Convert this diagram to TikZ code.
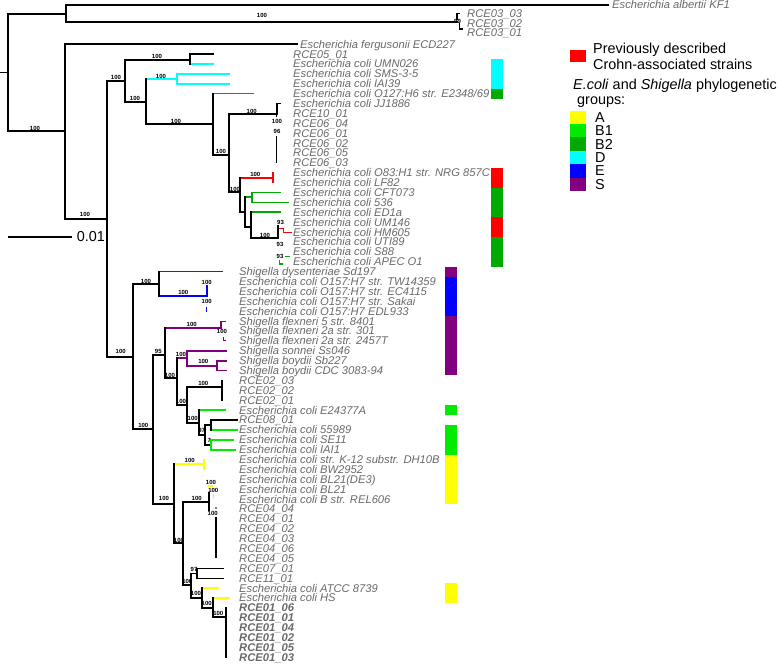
\documentclass[tikz,border=0pt]{standalone}
\usepackage{fontspec}
\setmainfont{Liberation Sans}
\usepackage{tikz}
\usetikzlibrary{positioning}
\definecolor{tipgray}{RGB}{105,105,105}
\definecolor{grpA}{RGB}{255,255,0}
\definecolor{grpBa}{RGB}{0,235,0}
\definecolor{grpBb}{RGB}{0,170,0}
\definecolor{grpD}{RGB}{0,255,255}
\definecolor{grpE}{RGB}{0,0,255}
\definecolor{grpS}{RGB}{128,0,128}
\definecolor{crohn}{RGB}{255,0,0}
\tikzstyle{branch}=[line width=1.7pt,line cap=rect]
\tikzstyle{twig}=[line width=1.1pt]
\tikzstyle{tip}=[anchor=west,inner sep=0pt,text height=8pt,text depth=0pt,text=tipgray,font=\fontsize{11.2}{11.2}\selectfont\itshape]
\tikzstyle{boot}=[inner sep=0pt,font=\fontsize{6}{6}\selectfont\bfseries]
\tikzstyle{legend}=[anchor=west,inner sep=0pt,text height=10.3pt,text depth=0pt,font=\fontsize{14.4}{14.4}\selectfont]

\begin{document}
\begin{tikzpicture}[x=1pt,y=-1pt]
\useasboundingbox (0,0) rectangle (779,664);

% First we place the inner nodes of the tree
\foreach \pos / \name in {{(0,72.5)/stub},{(8,72.5)/root},{(66,14)/nA},{(457,22)/nRa},{(65,131)/nB},
  {(107.3,218.7)/nC},{(125,81)/nD},{(190,60)/nE},{(145.7,101.7)/nF},{(176.7,79)/nG},{(212.7,124)/nH},
  {(229.3,155)/nI},{(276.7,114.3)/nJ},{(240,191.7)/nK},{(273.3,178.3)/nR},{(245,211.7)/nP},
  {(251.7,197.3)/nS},{(250.7,226.7)/nQ},{(278.3,238.3)/nU},{(132.7,356.7)/nL},{(159.3,284.3)/nM},
  {(206.7,296.3)/nO},{(153.3,429.3)/nN},{(165,355)/nT},{(221,328.3)/nFl},{(176.7,378)/nW},
  {(186.7,358.3)/nX},{(216.7,366)/nZ},{(186.7,405)/nY},{(221.7,386.7)/nRb},{(199.3,422.7)/nBa},
  {(205,435)/nBb},{(210.7,425)/nBc},{(211,444.8)/nBd},{(174,504)/nV},{(204,464.3)/nAa},
  {(183.3,543.3)/nAb},{(209.3,502.3)/nAc},{(190.7,585)/nAd},{(196.7,573.5)/nAe},{(201.7,598.2)/nAf},
  {(213.3,608.1)/nAg},{(226,617)/nAh}}
\node[coordinate] (\name) at \pos {};

% ends of the tip branches
\foreach \pos / \name in {{(608,4.7)/tAlb},{(296.7,44.3)/tFer},{(213.3,54)/tRa},{(213.3,63.9)/tUmn},
  {(229.3,73.8)/tSms},{(229.3,83.7)/tIai},{(252.7,93.6)/tOa},{(280,103.5)/tJj},{(280,192.5)/tCft},
  {(288.3,202.4)/tFsi},{(280,212.3)/tEd},{(222.3,271.6)/tSd},{(226,350.8)/tSs},{(226,360.7)/tSb},
  {(226,370.6)/tCdc},{(225,410.2)/tEt},{(237.3,420.1)/tRc},{(237.3,430)/tFf},{(232.7,439.9)/tSe},
  {(235,449.8)/tIa},{(223,568.5)/tRs},{(223,578.4)/tRe},{(218.3,588.3)/tAt},{(229,598.2)/tHs}}
\node[coordinate] (\name) at \pos {};

% Then the strain names
\node[tip] (lAlb) at (612,4.7) {Escherichia albertii KF1};
\node[tip] (lRa) at (467,13.3) {RCE03\_03};
\node[tip] (lRb) at (467,23) {RCE03\_02};
\node[tip] (lRc) at (467,32.7) {RCE03\_01};
\node[tip] (lFer) at (300,44.3) {Escherichia fergusonii ECD227};
\foreach \i / \txt in {1/RCE05\_01, 2/Escherichia coli UMN026, 3/Escherichia coli SMS-3-5,
  4/Escherichia coli IAI39, 5/{Escherichia coli O127:H6 str. E2348/69}, 6/Escherichia coli JJ1886,
  7/RCE10\_01, 8/RCE06\_04, 9/RCE06\_01, 10/RCE06\_02, 11/RCE06\_05, 12/RCE06\_03,
  13/Escherichia coli O83:H1 str. NRG 857C, 14/Escherichia coli LF82, 15/Escherichia coli CFT073,
  16/Escherichia coli 536, 17/Escherichia coli ED1a, 18/Escherichia coli UM146,
  19/Escherichia coli HM605, 20/Escherichia coli UTI89, 21/Escherichia coli S88,
  22/Escherichia coli APEC O1}
\node[tip] (l\i) at (293,{54+9.89*(\i-1)}) {\txt};
\foreach \i / \txt in {23/Shigella dysenteriae Sd197, 24/Escherichia coli O157:H7 str. TW14359,
  25/Escherichia coli O157:H7 str. EC4115, 26/Escherichia coli O157:H7 str. Sakai,
  27/Escherichia coli O157:H7 EDL933, 28/Shigella flexneri 5 str. 8401, 29/Shigella flexneri 2a str. 301,
  30/Shigella flexneri 2a str. 2457T, 31/Shigella sonnei Ss046, 32/Shigella boydii Sb227,
  33/Shigella boydii CDC 3083-94, 34/RCE02\_03, 35/RCE02\_02, 36/RCE02\_01,
  37/Escherichia coli E24377A, 38/RCE08\_01, 39/Escherichia coli 55989, 40/Escherichia coli SE11,
  41/Escherichia coli IAI1, 42/Escherichia coli str. K-12 substr. DH10B, 43/Escherichia coli BW2952,
  44/Escherichia coli BL21(DE3), 45/Escherichia coli BL21, 46/Escherichia coli B str. REL606,
  47/RCE04\_04, 48/RCE04\_01, 49/RCE04\_02, 50/RCE04\_03, 51/RCE04\_06, 52/RCE04\_05,
  53/RCE07\_01, 54/RCE11\_01, 55/Escherichia coli ATCC 8739, 56/Escherichia coli HS,
  57/{\bfseries RCE01\_06}, 58/{\bfseries RCE01\_01}, 59/{\bfseries RCE01\_04},
  60/{\bfseries RCE01\_02}, 61/{\bfseries RCE01\_05}, 62/{\bfseries RCE01\_03}}
\node[tip] (l\i) at (239,{54+9.89*(\i-1)}) {\txt};

% Connect the nodes: horizontal parts
\draw[branch] (stub) -- (root);
\foreach \source / \dest / \col in {root/nA/black, root/nB/black, nA/tAlb/black, nA/nRa/black,
  nB/tFer/black, nB/nC/black, nC/nD/black, nC/nL/black, nD/nE/black, nD/nF/black, nE/tRa/black,
  nE/tUmn/grpD, nF/nG/grpD, nF/nH/black, nG/tSms/grpD, nG/tIai/grpD, nH/tOa/grpBb, nH/nI/black,
  nI/nJ/black, nI/nK/black, nJ/tJj/black, nK/nR/crohn, nK/nP/black, nP/nS/grpBb, nP/nQ/black,
  nS/tCft/grpBb, nS/tFsi/grpBb, nQ/tEd/grpBb, nQ/nU/black, nL/nM/black, nL/nN/black, nM/tSd/grpS,
  nM/nO/grpE, nN/nT/black, nN/nV/black, nT/nFl/grpS, nT/nW/black, nW/nX/grpS, nW/nY/black,
  nX/tSs/grpS, nX/nZ/grpS, nZ/tSb/grpS, nZ/tCdc/grpS, nY/nRb/black, nY/nBa/black, nBa/tEt/grpBa,
  nBa/nBb/black, nBb/nBc/black, nBb/nBd/black, nBc/tRc/black, nBc/tFf/grpBa, nBd/tSe/grpBa,
  nBd/tIa/grpBa, nV/nAa/grpA, nV/nAb/black, nAb/nAc/black, nAb/nAd/black, nAd/nAe/black,
  nAd/nAf/black, nAe/tRs/black, nAe/tRe/black, nAf/tAt/grpA, nAf/nAg/black, nAg/tHs/grpA,
  nAg/nAh/black}
\draw[branch,\col] (\source |- \dest) -- (\dest);

% vertical parts
\foreach \name / \top / \bot / \col in {root/nA/nB/black, nA/tAlb/nRa/black, nB/tFer/nC/black,
  nC/nD/nL/black, nD/nE/nF/black, nE/tRa/tUmn/black, nF/nG/nH/black, nG/tSms/tIai/grpD,
  nH/tOa/nI/black, nI/nJ/nK/black, nJ/tJj/nJ/black, nK/nR/nP/black, nR/l13/l14/crohn,
  nP/nS/nQ/black, nS/tCft/tFsi/grpBb, nQ/tEd/nU/black, nL/nM/nN/black, nM/tSd/nO/black,
  nN/nT/nV/black, nT/nFl/nW/black, nW/nX/nY/black, nX/tSs/nZ/grpS, nZ/tSb/tCdc/grpS,
  nY/nRb/nBa/black, nRb/l34/l36/black, nBa/tEt/nBb/black, nBb/nBc/nBd/black, nBc/tRc/tFf/black,
  nBd/tSe/tIa/grpBa, nV/nAa/nAb/black, nAa/l42/l43/grpA, nAb/nAc/nAd/black, nAd/nAe/nAf/black,
  nAe/tRs/tRe/black, nAf/tAt/nAg/black, nAg/tHs/nAh/black, nAh/l57/l62/black}
\draw[branch,\col] (\name |- \top) -- (\name |- \bot);

% the very short branches
\draw[twig] (457,20) -- (457,13.3) -- (460,13.3);
\draw[twig] (459.3,22.7) -- (459.3,29) -- (463,29);
\fill (nJ) circle (1.3pt);
\draw[twig] (nJ) -- (276.7,117);
\draw[twig] (276.7,135.5) -- (276.7,163);
\draw[branch] (278.3,226) -- (nU);
\draw[twig,crohn] (279.3,228.3) -- (283.3,228.3) -- (283.3,232.1) -- (291.7,232.1);
\draw[twig,grpBb] (284.5,256.5) -- (290,256.5);
\draw[twig,grpBb] (279.5,259.5) -- (279.5,264) -- (282.5,264);
\draw[branch,grpE] (206.7,286) -- (nO);
\draw[twig,grpE] (206.7,306.5) -- (206.7,311.7);
\draw[twig,grpS] (226,321.1) -- (221,321.1) -- (nFl);
\draw[twig,grpS] (223.3,336.5) -- (223.3,340.9) -- (226,340.9);
\draw[branch] (209.3,493.3) -- (209.3,510);
\draw[twig,grpA] (208,486) -- (213,486);
\draw[twig,grpA] (213.3,494) -- (213.3,499);
\fill (216,508) circle (0.8pt);
\draw[twig] (216,516.7) -- (216,558.3);

% bootstrap values
\foreach \pos / \val [count=\k] in {{(262,15.7)/100},{(35,128)/100},{(85,214)/100},{(116,77)/100},
  {(157,56)/100},{(135,98)/100},{(161,76)/100},{(176,121)/100},{(221,151)/100},{(251.7,111)/100},
  {(235,189.5)/100},{(255.3,174.3)/100},{(265,235)/100},{(146,281)/100},{(183.3,292.3)/100},
  {(120.7,351.7)/100},{(143.3,425.7)/100},{(158.3,351.5)/95},{(191.7,324)/100},{(170,375)/100},
  {(181,354.5)/100},{(203.3,361.7)/100},{(181,401)/100},{(203.3,383.5)/100},{(192.7,418.3)/100},
  {(201.7,430)/97},{(209.3,440.5)/7},{(164,498.3)/100},{(189.7,460.7)/100},{(179,540)/100},
  {(196.7,498.7)/100},{(187.3,581)/100},{(194,569)/97},{(196,593)/100},{(206.7,603.3)/100},
  {(218.3,613.3)/100},{(457.5,21)/99},{(277,121)/100},{(277,131)/96},{(280.5,222.3)/93},
  {(280,244.5)/93},{(280,256.5)/93},{(206.7,282.3)/100},{(206.7,301.5)/100},{(222,331.5)/100},
  {(211,482.3)/100},{(213.3,490.5)/100},{(212.7,513.3)/100}}
\node[boot] (bs\k) at \pos {\val};

% group bars beside the names
\foreach \x / \ra / \rb / \col in {490.7/2/4/grpD, 490.7/5/5/grpBb, 490.7/13/14/crohn,
  490.7/15/17/grpBb, 490.7/18/19/crohn, 490.7/20/22/grpBb, 445.3/23/23/grpS, 445.3/24/27/grpE,
  445.3/28/33/grpS, 445.3/37/37/grpBa, 445.3/39/41/grpBa, 445.3/42/46/grpA, 445.3/55/56/grpA}
\fill[\col] (\x,{54+9.89*(\ra-1)-4.95}) rectangle ({\x+12},{54+9.89*(\rb-1)+4.95});

% scale bar
\node[coordinate] (sbl) at (8,236.7) {};
\node[coordinate] (sbr) at (71.7,236.7) {};
\draw[branch,line cap=butt] (sbl) -- (sbr);
\node[legend,right=5pt of sbr] (sbtxt) {0.01};

% legend
\fill[crohn] (570,50) rectangle (586,62);
\node[legend] (crA) at (593,48) {Previously described};
\node[legend] (crB) at (593,64) {Crohn-associated strains};
\node[legend] (grA) at (573,84) {\textit{E.coli} and \textit{Shigella} phylogenetic};
\node[legend] (grB) at (577,99.5) {groups:};
\foreach \col / \lab [count=\k] in {grpA/A, grpBa/B1, grpBb/B2, grpD/D, grpE/E, grpS/S}
{
  \fill[\col] (570,{110.5+13.4*(\k-1)}) rectangle (586,{110.5+13.4*\k});
  \node[legend] (gk\k) at (595,{117.2+13.4*(\k-1)}) {\lab};
}

\end{tikzpicture}
\end{document}
